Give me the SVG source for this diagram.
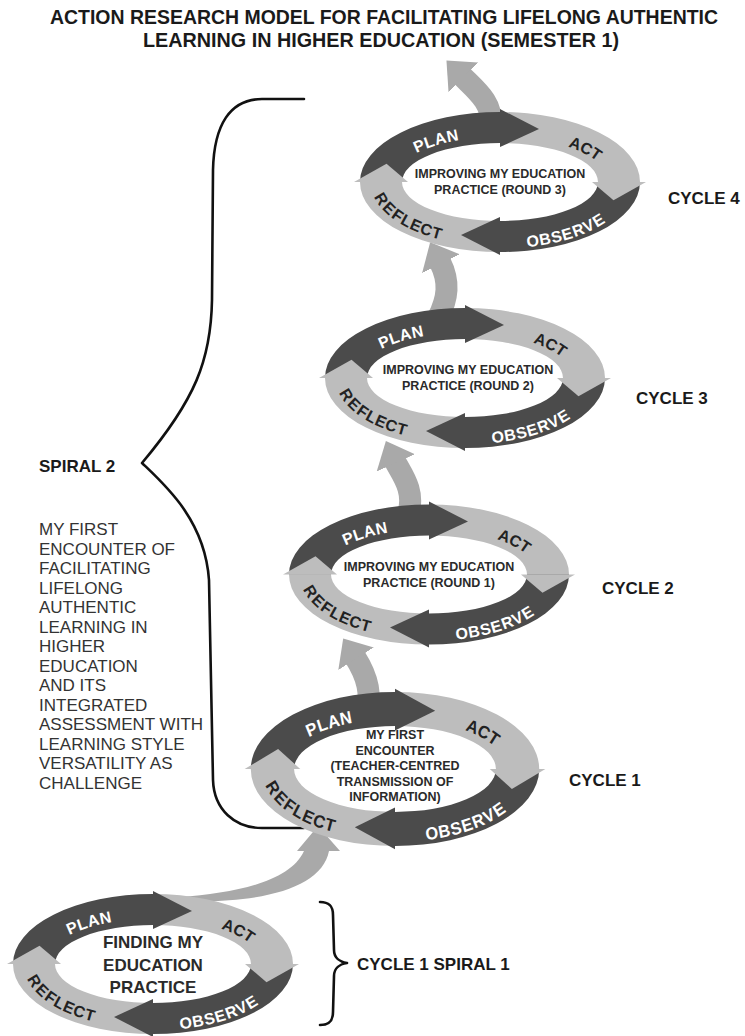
<svg xmlns="http://www.w3.org/2000/svg" xmlns:xlink="http://www.w3.org/1999/xlink" width="745" height="1036" viewBox="0 0 745 1036">
<style>
.dk{fill:#4b4b4b}
.lt{fill:#bdbdbd}
.con{fill:none;stroke:#a9a9a9;stroke-width:22}
.brace{fill:none;stroke:#111;stroke-width:2.6;stroke-linecap:round;stroke-linejoin:round}
.title{font-family:"Liberation Sans",Arial,sans-serif;font-weight:bold;font-size:20px;fill:#1a1a1a;text-anchor:middle}
.lab{font-family:"Liberation Sans",Arial,sans-serif;font-weight:bold;font-size:17px;fill:#1a1a1a}
.para{font-family:"Liberation Sans",Arial,sans-serif;font-size:17px;fill:#333}
.rl{font-family:"Liberation Sans",Arial,sans-serif;font-weight:bold;font-size:16px;text-anchor:middle}
.w{fill:#fff}
.d{fill:#222}
.ct{font-family:"Liberation Sans",Arial,sans-serif;font-weight:bold;font-size:12.5px;fill:#2a2a2a;text-anchor:middle}
.ct2{font-family:"Liberation Sans",Arial,sans-serif;font-weight:bold;font-size:17px;fill:#2a2a2a;text-anchor:middle}
</style>
<defs>
<marker id="ah" markerUnits="userSpaceOnUse" markerWidth="24" markerHeight="42" viewBox="0 0 24 42" refX="2" refY="21" orient="auto">
<path d="M0,0 L24,21 L0,42 Z" fill="#a9a9a9"/>
</marker>
<g id="ring">
<path class="dk" d="M -140 0 A 140 70 0 0 1 0 -70 L 0 -39 A 98 39 0 0 0 -98 0 Z"/>
<path class="lt" d="M 0 -70 A 140 70 0 0 1 140 0 L 98 0 A 98 39 0 0 0 0 -39 Z"/>
<path class="dk" d="M 140 0 A 140 70 0 0 1 0 70 L 0 39 A 98 39 0 0 0 98 0 Z"/>
<path class="lt" d="M 0 70 A 140 70 0 0 1 -140 0 L -98 0 A 98 39 0 0 0 0 39 Z"/>
<polygon class="dk" points="0,-73 39,-53 0,-35"/>
<polygon class="lt" points="146,0 113.5,18.2 92,0"/>
<polygon class="dk" points="0,73 -39,53 0,35"/>
<polygon class="lt" points="-146,0 -113.5,-18.2 -92,0"/>
</g>
<path id="lpTop" d="M -119 0 A 119 54.5 0 0 1 119 0"/>
<path id="lpBot" d="M -119 0 A 119 54.5 0 0 0 119 0"/>
</defs>

<g id="title">
<text class="title" x="384" y="24" textLength="668" lengthAdjust="spacingAndGlyphs">ACTION RESEARCH MODEL FOR FACILITATING LIFELONG AUTHENTIC</text>
<text class="title" x="381" y="47" textLength="476" lengthAdjust="spacingAndGlyphs">LEARNING IN HIGHER EDUCATION (SEMESTER 1)</text>
</g>

<g id="connectors">
<path d="M 180 897 C 235 893, 290 882, 304 851 L 297 851 L 318 826 L 340 851 L 329 851 C 322 888, 262 904, 180 901 Z" fill="#a9a9a9"/>
<path class="con" d="M 366 712 C 374 690, 362 668, 355 657" marker-end="url(#ah)"/>
<path class="con" d="M 408 514 C 416 490, 400 472, 395 461" marker-end="url(#ah)"/>
<path class="con" d="M 438 318 C 448 298, 450 282, 440 262" marker-end="url(#ah)"/>
<path class="con" d="M 490 124 C 494 104, 476 90, 462 76" marker-end="url(#ah)"/>
</g>

<g id="spiral2-brace">
<path class="brace" d="M 304 99 L 262 99 C 230 99, 214 125, 213 170 L 212 300 C 211 360, 195 400, 142 463 C 165 485, 205 520, 209 580 L 213 780 C 214 810, 235 828, 262 828 L 304 828"/>
<text class="lab" x="39" y="472">SPIRAL 2</text>
<text class="para" x="39" y="535">MY FIRST</text>
<text class="para" x="39" y="554.5">ENCOUNTER OF</text>
<text class="para" x="39" y="574">FACILITATING</text>
<text class="para" x="39" y="593.5">LIFELONG</text>
<text class="para" x="39" y="613">AUTHENTIC</text>
<text class="para" x="39" y="632.5">LEARNING IN</text>
<text class="para" x="39" y="652">HIGHER</text>
<text class="para" x="39" y="671.5">EDUCATION</text>
<text class="para" x="39" y="691">AND ITS</text>
<text class="para" x="39" y="710.5">INTEGRATED</text>
<text class="para" x="39" y="730">ASSESSMENT WITH</text>
<text class="para" x="39" y="749.5">LEARNING STYLE</text>
<text class="para" x="39" y="769">VERSATILITY AS</text>
<text class="para" x="39" y="788.5">CHALLENGE</text>
</g>

<g id="spiral1-brace">
<path class="brace" d="M 320 902 C 330 902, 333 907, 333 915 L 334 950 C 334 958, 340 962, 347 963 C 340 964, 334 968, 334 976 L 333 1012 C 333 1020, 330 1025, 320 1025"/>
<text class="lab" x="357" y="970">CYCLE 1 SPIRAL 1</text>
</g>

<g id="cycle4" transform="translate(500,182)">
<use href="#ring" xlink:href="#ring"/>
<text class="rl w" letter-spacing="1"><textPath href="#lpTop" xlink:href="#lpTop" startOffset="26.7%"><tspan dy="9">PLAN</tspan></textPath></text>
<text class="rl d" letter-spacing="1"><textPath href="#lpTop" xlink:href="#lpTop" startOffset="81.9%"><tspan dy="9">ACT</tspan></textPath></text>
<text class="rl w"><textPath href="#lpBot" xlink:href="#lpBot" startOffset="73%"><tspan dy="12">OBSERVE</tspan></textPath></text>
<text class="rl d"><textPath href="#lpBot" xlink:href="#lpBot" startOffset="16.5%"><tspan dy="10">REFLECT</tspan></textPath></text>
<text class="ct" x="0" y="-4">IMPROVING MY EDUCATION</text>
<text class="ct" x="0" y="12">PRACTICE (ROUND 3)</text>
</g>
<text class="lab" x="668" y="204">CYCLE 4</text>

<g id="cycle3" transform="translate(465,378)">
<use href="#ring" xlink:href="#ring"/>
<text class="rl w" letter-spacing="1"><textPath href="#lpTop" xlink:href="#lpTop" startOffset="26.7%"><tspan dy="9">PLAN</tspan></textPath></text>
<text class="rl d" letter-spacing="1"><textPath href="#lpTop" xlink:href="#lpTop" startOffset="81.9%"><tspan dy="9">ACT</tspan></textPath></text>
<text class="rl w"><textPath href="#lpBot" xlink:href="#lpBot" startOffset="73%"><tspan dy="12">OBSERVE</tspan></textPath></text>
<text class="rl d"><textPath href="#lpBot" xlink:href="#lpBot" startOffset="16.5%"><tspan dy="10">REFLECT</tspan></textPath></text>
<text class="ct" x="3" y="-4">IMPROVING MY EDUCATION</text>
<text class="ct" x="3" y="12">PRACTICE (ROUND 2)</text>
</g>
<text class="lab" x="636" y="404">CYCLE 3</text>

<g id="cycle2" transform="translate(429,574.5)">
<use href="#ring" xlink:href="#ring"/>
<text class="rl w" letter-spacing="1"><textPath href="#lpTop" xlink:href="#lpTop" startOffset="26.7%"><tspan dy="9">PLAN</tspan></textPath></text>
<text class="rl d" letter-spacing="1"><textPath href="#lpTop" xlink:href="#lpTop" startOffset="81.9%"><tspan dy="9">ACT</tspan></textPath></text>
<text class="rl w"><textPath href="#lpBot" xlink:href="#lpBot" startOffset="73%"><tspan dy="12">OBSERVE</tspan></textPath></text>
<text class="rl d"><textPath href="#lpBot" xlink:href="#lpBot" startOffset="16.5%"><tspan dy="10">REFLECT</tspan></textPath></text>
<text class="ct" x="0" y="-4">IMPROVING MY EDUCATION</text>
<text class="ct" x="0" y="12">PRACTICE (ROUND 1)</text>
</g>
<text class="lab" x="602" y="594">CYCLE 2</text>

<g id="cycle1" transform="translate(395,769)">
<g transform="scale(1.03,1.1)">
<use href="#ring" xlink:href="#ring"/>
<text class="rl w" letter-spacing="1"><textPath href="#lpTop" xlink:href="#lpTop" startOffset="26.7%"><tspan dy="9">PLAN</tspan></textPath></text>
<text class="rl d" letter-spacing="1"><textPath href="#lpTop" xlink:href="#lpTop" startOffset="81.9%"><tspan dy="9">ACT</tspan></textPath></text>
<text class="rl w"><textPath href="#lpBot" xlink:href="#lpBot" startOffset="74%"><tspan dy="12">OBSERVE</tspan></textPath></text>
<text class="rl d"><textPath href="#lpBot" xlink:href="#lpBot" startOffset="16.5%"><tspan dy="10">REFLECT</tspan></textPath></text>
</g>
<text class="ct" x="0" y="-30">MY FIRST</text>
<text class="ct" x="0" y="-14.5">ENCOUNTER</text>
<text class="ct" x="0" y="1">(TEACHER-CENTRED</text>
<text class="ct" x="0" y="16.5">TRANSMISSION OF</text>
<text class="ct" x="0" y="32">INFORMATION)</text>
</g>
<text class="lab" x="569" y="786">CYCLE 1</text>

<g id="cycle-s1" transform="translate(153,964)">
<use href="#ring" xlink:href="#ring"/>
<text class="rl w" letter-spacing="1"><textPath href="#lpTop" xlink:href="#lpTop" startOffset="26.7%"><tspan dy="9">PLAN</tspan></textPath></text>
<text class="rl d" letter-spacing="1"><textPath href="#lpTop" xlink:href="#lpTop" startOffset="81.9%"><tspan dy="9">ACT</tspan></textPath></text>
<text class="rl w"><textPath href="#lpBot" xlink:href="#lpBot" startOffset="73%"><tspan dy="12">OBSERVE</tspan></textPath></text>
<text class="rl d"><textPath href="#lpBot" xlink:href="#lpBot" startOffset="16.5%"><tspan dy="10">REFLECT</tspan></textPath></text>
<text class="ct2" x="0" y="-16">FINDING MY</text>
<text class="ct2" x="0" y="7">EDUCATION</text>
<text class="ct2" x="0" y="29">PRACTICE</text>
</g>
</svg>
